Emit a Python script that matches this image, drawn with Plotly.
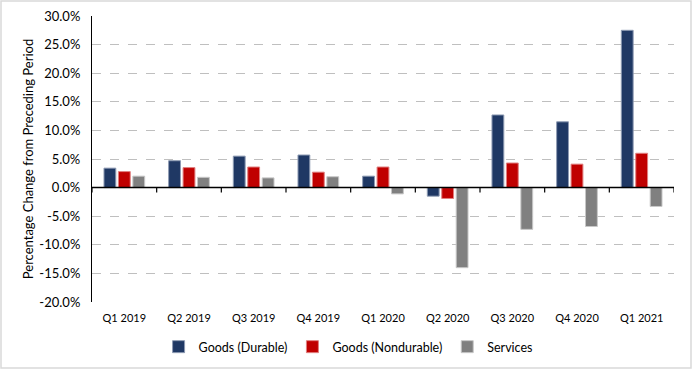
import plotly.graph_objects as go

quarters = ["Q1 2019", "Q2 2019", "Q3 2019", "Q4 2019", "Q1 2020",
            "Q2 2020", "Q3 2020", "Q4 2020", "Q1 2021"]
durable = [3.4, 4.7, 5.5, 5.7, 2.0, -1.5, 12.7, 11.5, 27.5]
nondurable = [2.8, 3.5, 3.6, 2.7, 3.6, -1.9, 4.3, 4.1, 6.0]
services = [2.0, 1.8, 1.7, 1.9, -1.1, -14.0, -7.3, -6.8, -3.3]
y_ticks = [-20, -15, -10, -5, 0, 5, 10, 15, 20, 25, 30]
y_tick_text = [f"{v:.1f}%" for v in y_ticks]

FONT = "Lato"
W, H = 693, 370
L, R, T, B = 92, 19, 16, 68
pw, ph = W - L - R, H - T - B

fig = go.Figure()
for name, vals, col, edge in [
    ("Goods (Durable)", durable, "#1F3864", "#8E9BB3"),
    ("Goods (Nondurable)", nondurable, "#C00000", "#E08080"),
    ("Services", services, "#808080", "#C8C8C8"),
]:
    fig.add_trace(go.Bar(x=quarters, y=vals, name=name,
                         marker=dict(color=col, line=dict(color=edge, width=1))))

shapes = []
# category boundary tick marks on the zero line
for i in range(len(quarters) + 1):
    shapes.append(dict(type="line", xref="x", yref="y", x0=i - 0.5, x1=i - 0.5,
                       ysizemode="pixel", yanchor=0, y0=0, y1=-5,
                       line=dict(color="black", width=1.2)))
# zero line
shapes.append(dict(type="line", xref="paper", yref="y", x0=0, x1=1, y0=0, y1=0,
                   line=dict(color="black", width=1.5)))
# outer border
shapes.append(dict(type="rect", xref="paper", yref="paper",
                   x0=(1 - L) / pw, x1=(W - 2 - L) / pw,
                   y0=(T + ph - (H - 2)) / ph, y1=(T + ph - 1) / ph,
                   line=dict(color="#D9D9D9", width=1.5), layer="below"))

fig.update_layout(
    width=W, height=H,
    margin=dict(l=L, r=R, t=T, b=B, autoexpand=False),
    paper_bgcolor="white", plot_bgcolor="white",
    font=dict(family=FONT, size=11, color="black"),
    barmode="group", bargap=0.33, bargroupgap=0.18,
    shapes=shapes,
    showlegend=True,
    legend=dict(orientation="h", x=0.44, xanchor="center", y=-0.105, yanchor="top",
                font=dict(family=FONT, size=12.5), itemwidth=30, traceorder="normal"),
    xaxis=dict(showgrid=False, showline=False, ticks="", tickfont=dict(size=11),
               range=[-0.5, len(quarters) - 0.5], ticklabelstandoff=8,
               automargin=False),
    yaxis=dict(range=[-20, 30], tickvals=y_ticks, ticktext=y_tick_text,
               showgrid=True, gridcolor="#BFBFBF", griddash="dash", gridwidth=1,
               showline=True, linecolor="black", linewidth=1.2, zeroline=False,
               tickfont=dict(size=13), automargin=False, ticklabelstandoff=8,
               title=dict(text="Percentage Change from Preceding Period",
                          font=dict(size=13), standoff=2)),
)

fig.write_html("out.html", config={"displayModeBar": False},
               post_script="document.body.style.margin='0';")
